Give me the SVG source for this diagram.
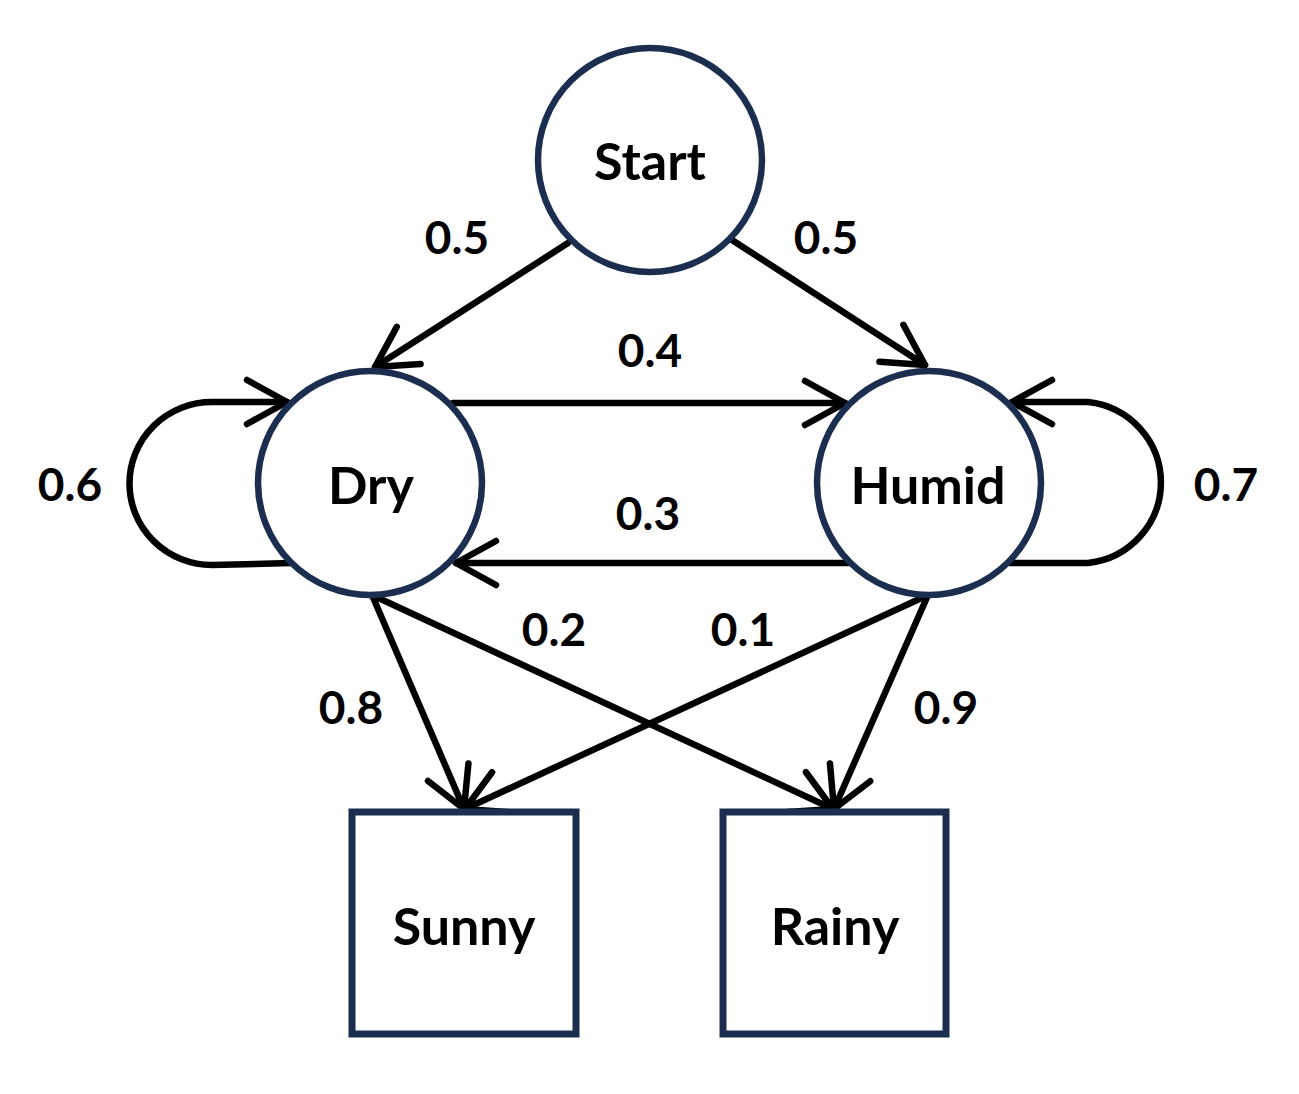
<svg xmlns="http://www.w3.org/2000/svg" width="1299" height="1094" viewBox="0 0 1299 1094">
<style>
.node{fill:#ffffff;stroke:#1c2e50;stroke-width:6.5}
.edge{fill:none;stroke:#000000;stroke-width:6.5;stroke-linecap:round;stroke-linejoin:round}
.lbl{font-family:Lato,"Open Sans","Liberation Sans",sans-serif;font-weight:bold;font-size:46px;fill:#000000;text-anchor:middle;dominant-baseline:central}
.nlbl{font-family:Lato,"Open Sans","Liberation Sans",sans-serif;font-weight:bold;font-size:52px;fill:#000000;text-anchor:middle;dominant-baseline:central}
</style>
<defs>
<marker id="arr" markerUnits="userSpaceOnUse" markerWidth="60" markerHeight="60" refX="0" refY="0" viewBox="-50 -30 60 60" orient="auto" overflow="visible">
<path d="M-40,-22 L0,0 L-40,22" fill="none" stroke="#000000" stroke-width="6.5" stroke-linecap="round" stroke-linejoin="round"/>
</marker>
</defs>
<rect width="1299" height="1094" fill="#ffffff"/>
<g id="connectors">
<path class="edge" d="M568,243 L375,367" marker-end="url(#arr)"/>
<path class="edge" d="M732,240 L925,365" marker-end="url(#arr)"/>
<path class="edge" d="M453,403 L845,403" marker-end="url(#arr)"/>
<path class="edge" d="M848,563 L456,563" marker-end="url(#arr)"/>
<path class="edge" d="M291,563 L212,565 A82,81 0 0 1 212,402 L287,402" marker-end="url(#arr)"/>
<path class="edge" d="M1010,563 L1088,563 A82,81 0 0 0 1088,402 L1012,402" marker-end="url(#arr)"/>
<path class="edge" d="M372,595 L464,809" marker-end="url(#arr)"/>
<path class="edge" d="M372,595 L833,809" marker-end="url(#arr)"/>
<path class="edge" d="M928,595 L465,809" marker-end="url(#arr)"/>
<path class="edge" d="M928,595 L834,809" marker-end="url(#arr)"/>
<text class="lbl" x="457" y="236">0.5</text>
<text class="lbl" x="826" y="236">0.5</text>
<text class="lbl" x="650" y="349">0.4</text>
<text class="lbl" x="70" y="483">0.6</text>
<text class="lbl" x="648" y="512">0.3</text>
<text class="lbl" x="1226" y="483">0.7</text>
<text class="lbl" x="554" y="628">0.2</text>
<text class="lbl" x="743" y="628">0.1</text>
<text class="lbl" x="351" y="706">0.8</text>
<text class="lbl" x="946" y="706">0.9</text>
</g>
<g id="start">
<circle class="node" cx="650" cy="160" r="112"/>
<text class="nlbl" x="650" y="160">Start</text>
</g>
<g id="dry">
<circle class="node" cx="370" cy="483" r="112"/>
<text class="nlbl" x="371" y="484">Dry</text>
</g>
<g id="humid">
<circle class="node" cx="929" cy="483" r="112"/>
<text class="nlbl" x="928" y="484">Humid</text>
</g>
<g id="sunny">
<rect class="node" x="352" y="812" width="224" height="222" style="stroke-width:7"/>
<text class="nlbl" x="464" y="925">Sunny</text>
</g>
<g id="rainy">
<rect class="node" x="723" y="812" width="223" height="222" style="stroke-width:7"/>
<text class="nlbl" x="835" y="925">Rainy</text>
</g>
</svg>
